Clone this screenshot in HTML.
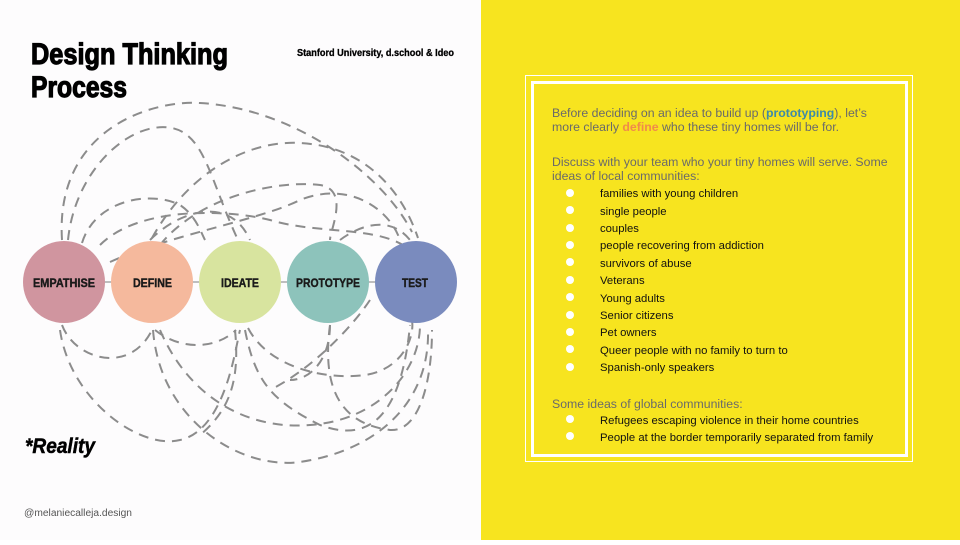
<!DOCTYPE html>
<html><head><meta charset="utf-8"><style>
html,body{margin:0;padding:0;width:960px;height:540px;overflow:hidden;font-family:"Liberation Sans",sans-serif}
#left{position:absolute;left:0;top:0;width:481px;height:540px;background:#fdfcfd}
#right{position:absolute;left:481px;top:0;width:479px;height:540px;background:#f7e41f}
.o{position:absolute;left:525px;top:75px;width:388px;height:387px;border:1px solid #fff;box-sizing:border-box}
.i{position:absolute;left:531px;top:81px;width:377px;height:376px;border:3px solid #fff;box-sizing:border-box}
.t{position:absolute;left:552px;color:#6a6a6a;font-size:12.3px;line-height:14px}
.li{position:absolute;left:600px;color:#111;font-size:11.3px;line-height:14px}
.b{position:absolute;left:566px;width:8px;height:8px;border-radius:50%;background:#fff}
</style></head><body>
<div id="left">
<svg width="481" height="540" xmlns="http://www.w3.org/2000/svg">
<g stroke="#000" stroke-width="1.2">
<text x="31" y="64" font-family="Liberation Sans" font-weight="bold" font-size="30" textLength="197" lengthAdjust="spacingAndGlyphs">Design Thinking</text>
<text x="31" y="97" font-family="Liberation Sans" font-weight="bold" font-size="30" textLength="96" lengthAdjust="spacingAndGlyphs">Process</text>
</g>
<text x="297" y="56" font-family="Liberation Sans" font-weight="bold" font-size="10.5" stroke="#000" stroke-width="0.3" textLength="157" lengthAdjust="spacingAndGlyphs">Stanford University, d.school &amp; Ideo</text>
<g fill="none" stroke="#8c8c8c" stroke-width="2" stroke-dasharray="10,7">
<path d="M62,240 C55,130 150,100 200,103 C290,108 380,170 412,232"/>
<path d="M68,240 C75,170 130,120 172,128 C205,135 210,180 238,240"/>
<path d="M152,238 C190,170 250,140 300,143 C360,146 400,185 418,238"/>
<path d="M82,243 C95,200 150,190 180,205 C195,215 200,230 205,240"/>
<path d="M100,245 C140,205 230,210 270,220 C320,235 380,225 410,250"/>
<path d="M160,245 C200,195 280,180 320,185 C350,190 330,230 330,240"/>
<path d="M110,262 C170,235 260,220 300,200 C350,180 390,210 400,240"/>
<path d="M150,240 C180,210 230,195 250,240"/>
<path d="M340,240 C360,225 390,215 410,240"/>
<path d="M62,325 C75,360 130,375 152,330"/>
<path d="M155,330 C180,350 215,350 236,330"/>
<path d="M60,330 C70,400 140,450 180,440 C225,430 235,350 240,330"/>
<path d="M153,330 C160,420 240,470 300,462 C380,450 430,400 428,330"/>
<path d="M160,330 C190,400 250,430 310,425 C380,420 420,370 420,325"/>
<path d="M248,328 C270,370 330,380 365,375 C400,370 415,340 412,320"/>
<path d="M245,330 C255,380 270,400 320,425 C360,440 400,430 410,325"/>
<path d="M235,330 C240,380 230,410 200,435"/>
<path d="M330,325 C330,360 310,380 290,380"/>
<path d="M330,325 C320,400 350,425 390,430 C420,432 432,380 432,330"/>
<path d="M370,300 C350,330 310,370 270,390"/>
</g>
<g stroke="#aaa" stroke-width="1.5"><line x1="100" y1="282" x2="420" y2="282"/></g>
<circle cx="64" cy="282" r="41" fill="#d0959f"/>
<circle cx="152" cy="282" r="41" fill="#f5b99d"/>
<circle cx="240" cy="282" r="41" fill="#d8e49f"/>
<circle cx="328" cy="282" r="41" fill="#8dc3bb"/>
<circle cx="416" cy="282" r="41" fill="#7a8bbe"/>
<g font-family="Liberation Sans" font-weight="bold" font-size="12" fill="#1a1a1a" stroke="#1a1a1a" stroke-width="0.4">
<text x="33" y="287" textLength="62" lengthAdjust="spacingAndGlyphs">EMPATHISE</text>
<text x="133" y="287" textLength="39" lengthAdjust="spacingAndGlyphs">DEFINE</text>
<text x="221" y="287" textLength="38" lengthAdjust="spacingAndGlyphs">IDEATE</text>
<text x="296" y="287" textLength="64" lengthAdjust="spacingAndGlyphs">PROTOTYPE</text>
<text x="402" y="287" textLength="26" lengthAdjust="spacingAndGlyphs">TEST</text>
</g>
<text x="25" y="453" font-family="Liberation Sans" font-weight="bold" font-style="italic" font-size="21" stroke="#000" stroke-width="0.5" textLength="70" lengthAdjust="spacingAndGlyphs">*Reality</text>
<text x="24" y="516" font-family="Liberation Sans" font-size="10" fill="#555" textLength="108" lengthAdjust="spacingAndGlyphs">@melaniecalleja.design</text>
</svg>
</div>
<div id="right"></div>
<div class="o"></div><div class="i"></div>
<div class="t" style="top:106px">Before deciding on an idea to build up (<b style="color:#3d8aa8">prototyping</b>), let’s<br>more clearly <b style="color:#f08a4b">define</b> who these tiny homes will be for.</div>
<div class="t" style="top:155px">Discuss with your team who your tiny homes will serve. Some<br>ideas of local communities:</div>
<div class="b" style="top:189px"></div><div class="li" style="top:187px">families with young children</div>
<div class="b" style="top:206px"></div><div class="li" style="top:205px">single people</div>
<div class="b" style="top:224px"></div><div class="li" style="top:222px">couples</div>
<div class="b" style="top:241px"></div><div class="li" style="top:239px">people recovering from addiction</div>
<div class="b" style="top:258px"></div><div class="li" style="top:257px">survivors of abuse</div>
<div class="b" style="top:276px"></div><div class="li" style="top:274px">Veterans</div>
<div class="b" style="top:293px"></div><div class="li" style="top:292px">Young adults</div>
<div class="b" style="top:311px"></div><div class="li" style="top:309px">Senior citizens</div>
<div class="b" style="top:328px"></div><div class="li" style="top:326px">Pet owners</div>
<div class="b" style="top:345px"></div><div class="li" style="top:344px">Queer people with no family to turn to</div>
<div class="b" style="top:363px"></div><div class="li" style="top:361px">Spanish-only speakers</div>
<div class="t" style="top:397px">Some ideas of global communities:</div>
<div class="b" style="top:415px"></div><div class="li" style="top:414px">Refugees escaping violence in their home countries</div>
<div class="b" style="top:432px"></div><div class="li" style="top:431px">People at the border temporarily separated from family</div>
</body></html>
